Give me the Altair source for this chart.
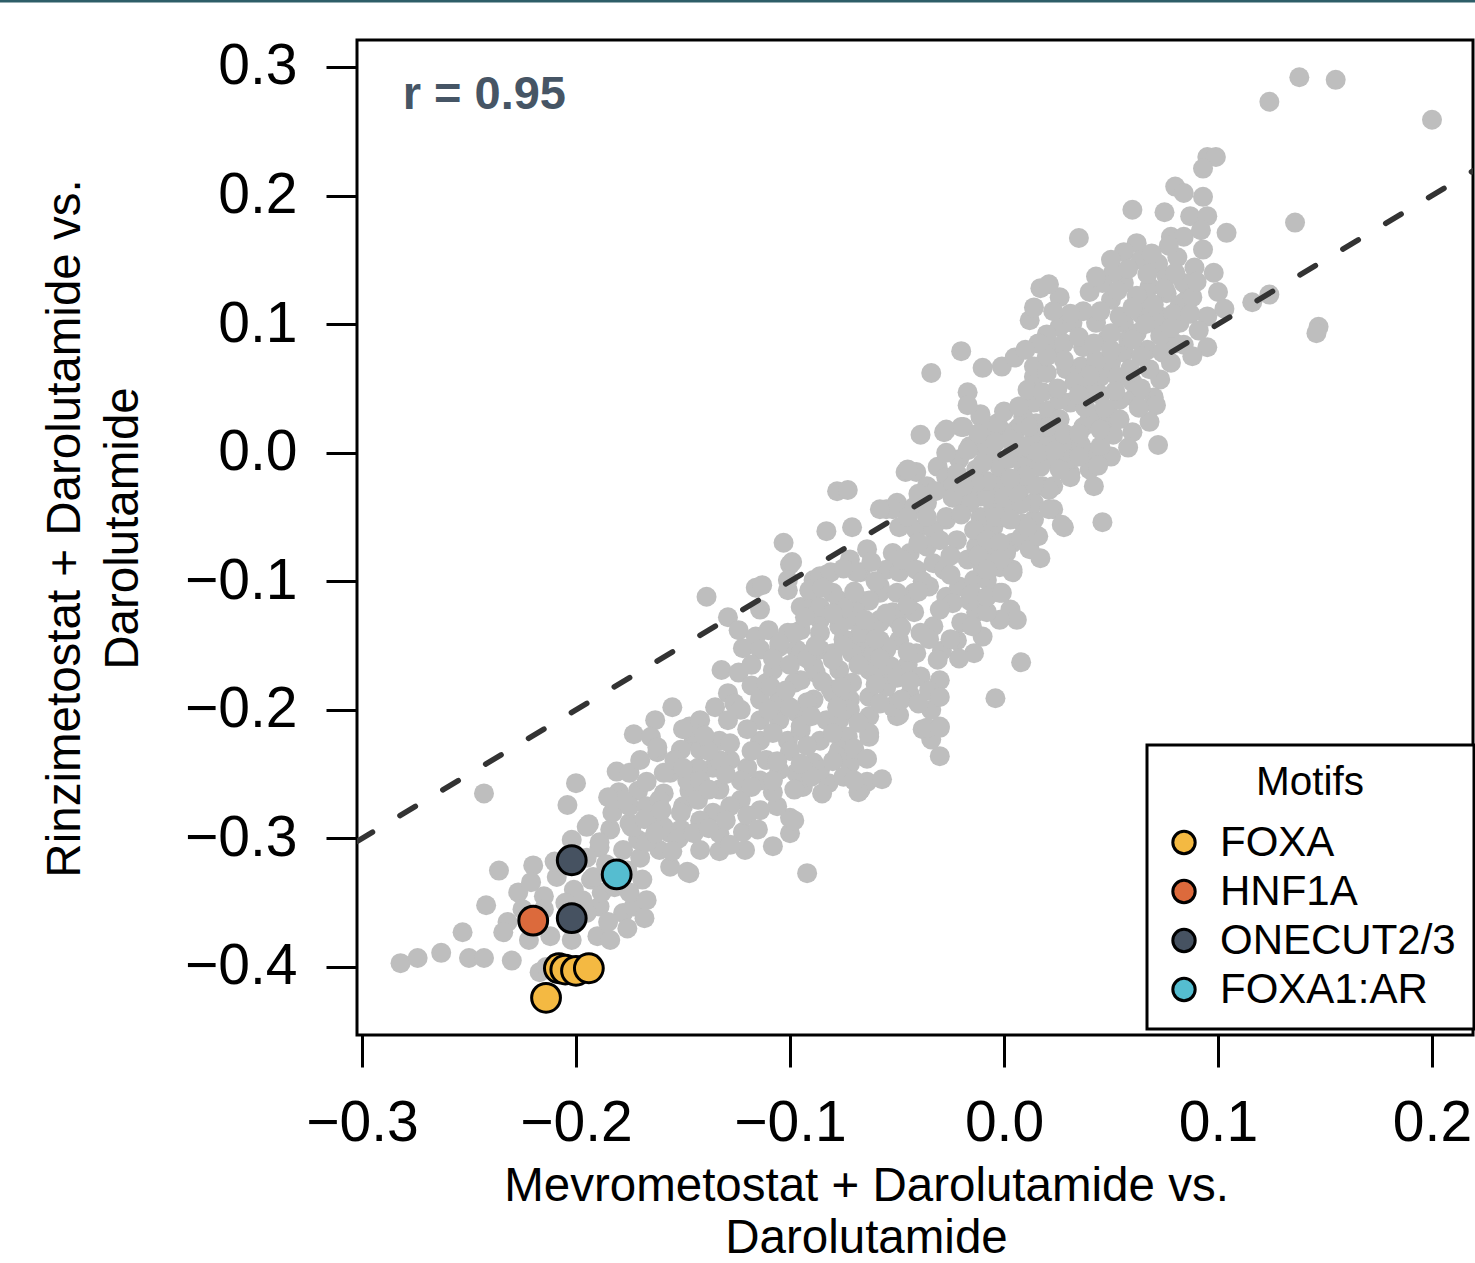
import altair as alt
import pandas as pd

# ---------------- data ----------------
lower_tail = [
    (-0.243, -0.265), (-0.200, -0.257), (-0.204, -0.274), (-0.194, -0.289), (-0.181, -0.248), (-0.180, -0.264),
    (-0.236, -0.325), (-0.220, -0.321), (-0.242, -0.352), (-0.253, -0.373), (-0.282, -0.397), (-0.274, -0.393),
    (-0.263, -0.389), (-0.250, -0.393), (-0.243, -0.393), (-0.230, -0.395), (-0.232, -0.365), (-0.234, -0.373),
    (-0.227, -0.342), (-0.221, -0.334), (-0.215, -0.345), (-0.209, -0.330), (-0.201, -0.340), (-0.212, -0.376),
    (-0.222, -0.379), (-0.202, -0.379), (-0.190, -0.376), (-0.184, -0.379), (-0.178, -0.358), (-0.173, -0.353),
    (-0.167, -0.348), (-0.189, -0.353), (-0.195, -0.358), (-0.197, -0.348), (-0.188, -0.342), (-0.202, -0.301),
    (-0.189, -0.307), (-0.184, -0.293), (-0.183, -0.280), (-0.175, -0.288), (-0.171, -0.301), (-0.178, -0.309),
    (-0.193, -0.332), (-0.169, -0.332), (-0.156, -0.322), (-0.147, -0.327), (-0.161, -0.309), (-0.156, -0.296),
    (-0.164, -0.284), (-0.171, -0.263), (-0.162, -0.233), (-0.156, -0.249), (-0.150, -0.275), (-0.147, -0.263),
    (-0.217, -0.404), (-0.214, -0.400),
    (-0.195, -0.315), (-0.186, -0.320), (-0.176, -0.325), (-0.170, -0.315), (-0.192, -0.330), (-0.182, -0.338),
    (-0.175, -0.342), (-0.205, -0.350), (-0.185, -0.365), (-0.176, -0.370), (-0.168, -0.362), (-0.210, -0.318),
    (-0.215, -0.355), (-0.225, -0.355),
]

lower_band = [
    (-0.139, -0.112), (-0.116, -0.105), (-0.129, -0.128), (-0.124, -0.138), (-0.116, -0.143), (-0.122, -0.152),
    (-0.132, -0.169), (-0.124, -0.171), (-0.118, -0.181), (-0.129, -0.187), (-0.135, -0.198), (-0.126, -0.195),
    (-0.155, -0.198), (-0.163, -0.208), (-0.173, -0.219), (-0.165, -0.221), (-0.162, -0.229), (-0.147, -0.213),
    (-0.145, -0.224), (-0.151, -0.231), (-0.175, -0.249), (-0.167, -0.256), (-0.159, -0.249), (-0.154, -0.239),
    (-0.195, -0.291), (-0.175, -0.275), (-0.174, -0.291), (-0.189, -0.303), (-0.167, -0.303), (-0.159, -0.291),
    (-0.151, -0.280), (-0.143, -0.270), (-0.136, -0.280), (-0.133, -0.296), (-0.122, -0.295), (-0.121, -0.309),
    (-0.108, -0.306), (-0.100, -0.284), (-0.100, -0.296), (-0.106, -0.275), (-0.108, -0.264), (-0.092, -0.327),
    (-0.094, -0.260), (-0.082, -0.257), (-0.067, -0.262), (-0.064, -0.256), (-0.057, -0.254), (-0.072, -0.241),
    (-0.089, -0.241), (-0.097, -0.249),
    (-0.100, -0.087), (-0.089, -0.099), (-0.083, -0.095), (-0.067, -0.093), (-0.101, -0.107), (-0.095, -0.120),
    (-0.089, -0.117), (-0.101, -0.140), (-0.105, -0.151), (-0.108, -0.169), (-0.111, -0.179), (-0.097, -0.153),
    (-0.089, -0.166), (-0.080, -0.156), (-0.073, -0.146), (-0.064, -0.135), (-0.058, -0.109), (-0.052, -0.124),
    (-0.055, -0.153), (-0.063, -0.169), (-0.055, -0.174), (-0.050, -0.194), (-0.050, -0.205), (-0.063, -0.205),
    (-0.063, -0.221), (-0.073, -0.221), (-0.083, -0.208), (-0.089, -0.192), (-0.097, -0.202), (-0.105, -0.192),
    (-0.101, -0.224), (-0.111, -0.239), (-0.120, -0.245), (-0.128, -0.239), (-0.136, -0.245), (-0.143, -0.245),
    (-0.148, -0.255), (-0.159, -0.265), (-0.167, -0.275),
    (-0.142, -0.208), (-0.133, -0.224), (-0.114, -0.208), (-0.114, -0.192), (-0.123, -0.200), (-0.095, -0.216),
    (-0.086, -0.224), (-0.077, -0.208), (-0.072, -0.192), (-0.081, -0.184), (-0.077, -0.169), (-0.086, -0.153),
    (-0.114, -0.153), (-0.110, -0.138), (-0.114, -0.122), (-0.095, -0.138), (-0.086, -0.130), (-0.077, -0.115),
    (-0.067, -0.115), (-0.072, -0.130), (-0.067, -0.153), (-0.058, -0.146), (-0.058, -0.130), (-0.095, -0.177),
    (-0.105, -0.208), (-0.114, -0.224), (-0.123, -0.255), (-0.133, -0.262), (-0.142, -0.255), (-0.114, -0.255),
    (-0.105, -0.247), (-0.086, -0.247), (-0.077, -0.231), (-0.142, -0.286), (-0.151, -0.293), (-0.161, -0.270),
    (-0.170, -0.239), (-0.142, -0.231), (-0.133, -0.239), (-0.123, -0.270), (-0.114, -0.278), (-0.142, -0.309),
    (-0.038, -0.215), (-0.030, -0.213), (-0.034, -0.223), (-0.030, -0.236), (-0.072, -0.242), (-0.068, -0.264),
    (-0.098, -0.286), (-0.078, -0.236), (-0.129, -0.208), (-0.133, -0.310), (-0.148, -0.326),
    (-0.145, -0.218), (-0.138, -0.232), (-0.128, -0.226), (-0.120, -0.215), (-0.108, -0.218), (-0.100, -0.232),
    (-0.092, -0.228), (-0.080, -0.218), (-0.070, -0.230), (-0.064, -0.238), (-0.130, -0.250), (-0.118, -0.260),
    (-0.108, -0.255), (-0.098, -0.262), (-0.090, -0.252), (-0.080, -0.240), (-0.075, -0.252), (-0.150, -0.245),
    (-0.138, -0.262), (-0.128, -0.275), (-0.106, -0.240), (-0.118, -0.232), (-0.095, -0.242), (-0.085, -0.265),
    (-0.070, -0.255), (-0.150, -0.215), (-0.140, -0.220),
    (-0.178, -0.270), (-0.168, -0.285), (-0.160, -0.278), (-0.152, -0.300), (-0.145, -0.296), (-0.138, -0.292),
    (-0.130, -0.286), (-0.120, -0.282), (-0.163, -0.296), (-0.155, -0.310), (-0.128, -0.305), (-0.115, -0.293),
    (-0.185, -0.268),
]

mid_band = [
    (-0.039, 0.014), (-0.028, 0.016), (-0.020, 0.020), (-0.046, -0.015), (-0.041, -0.015), (-0.078, -0.030),
    (-0.073, -0.029), (-0.083, -0.061), (-0.071, -0.058), (-0.064, -0.075), (-0.103, -0.070), (-0.099, -0.085),
    (-0.101, -0.099), (-0.113, -0.103), (-0.086, -0.096), (-0.081, -0.093), (-0.069, -0.093), (-0.072, -0.083),
    (-0.091, -0.107), (-0.055, -0.044), (-0.050, -0.039), (-0.031, -0.011), (-0.014, 0.005), (-0.005, 0.020),
    (0.007, 0.020), (0.018, 0.010), (0.031, 0.008), (0.026, -0.005), (0.031, -0.016), (0.018, -0.026),
    (0.023, -0.044), (0.028, -0.058), (0.017, -0.082), (0.007, -0.031), (-0.002, -0.029), (0.009, -0.055),
    (-0.005, -0.058), (0.004, -0.070), (0.004, -0.091), (-0.002, -0.109), (0.003, -0.122), (0.006, -0.130),
    (-0.002, -0.130), (-0.013, -0.124), (-0.008, -0.124), (-0.010, -0.143), (-0.014, -0.156), (-0.022, -0.146),
    (-0.021, -0.160), (-0.029, -0.154), (-0.030, -0.177), (0.008, -0.163), (-0.004, -0.191), (-0.044, -0.188),
    (-0.034, -0.200), (-0.036, -0.214), (-0.030, -0.214), (-0.049, -0.204), (-0.045, -0.165), (-0.033, -0.135),
    (-0.027, -0.112), (-0.021, -0.104), (-0.014, -0.099), (-0.010, -0.089), (-0.005, -0.078), (-0.013, -0.073),
    (-0.017, -0.083), (-0.022, -0.068), (-0.027, -0.052), (-0.017, -0.039), (-0.011, -0.034), (-0.021, -0.026),
    (-0.027, -0.019), (-0.036, -0.026), (-0.042, -0.042), (-0.049, -0.058), (-0.041, -0.060), (-0.033, -0.060),
    (-0.036, -0.073), (-0.044, -0.078), (-0.052, -0.078), (-0.055, -0.091), (-0.049, -0.093), (-0.041, -0.091),
    (-0.033, -0.086), (-0.028, -0.091), (-0.035, -0.104), (-0.042, -0.109), (-0.050, -0.109), (-0.058, -0.104),
    (-0.063, -0.115), (-0.069, -0.124), (-0.075, -0.120), (-0.080, -0.109), (-0.086, -0.120), (-0.093, -0.128),
    (-0.098, -0.140), (-0.105, -0.148), (-0.109, -0.182), (-0.095, -0.156), (-0.086, -0.140), (-0.077, -0.135),
    (-0.067, -0.140), (-0.058, -0.132), (-0.050, -0.130), (-0.042, -0.124), (-0.039, -0.140), (-0.049, -0.146),
    (-0.055, -0.151), (-0.061, -0.156), (-0.071, -0.156), (-0.080, -0.161), (-0.088, -0.171), (-0.098, -0.179),
    (-0.105, -0.194), (-0.092, -0.194), (-0.080, -0.187), (-0.071, -0.179), (-0.061, -0.171), (-0.053, -0.166),
    (-0.055, -0.182), (-0.063, -0.190), (-0.072, -0.200), (-0.095, -0.213), (-0.063, -0.218), (-0.052, -0.198),
    (-0.039, -0.174), (-0.041, -0.156), (-0.031, -0.161), (-0.024, -0.117), (-0.016, -0.115), (-0.008, -0.099),
    (-0.002, -0.089), (0.001, -0.078), (-0.007, -0.062), (0.000, -0.050), (-0.011, -0.050), (-0.014, -0.060),
    (-0.005, -0.042), (0.014, -0.052), (0.004, -0.042), (0.014, -0.039), (0.011, -0.008), (0.004, 0.000),
    (-0.005, -0.003), (-0.013, -0.013), (-0.021, -0.005), (-0.027, 0.000), (0.020, -0.005), (0.023, -0.026),
    (-0.034, 0.062), (-0.027, 0.018), (-0.011, 0.030), (-0.045, -0.013), (-0.016, 0.005), (-0.008, 0.010),
    (-0.002, 0.018), (0.006, 0.018), (0.009, 0.028), (0.014, 0.039), (0.014, 0.059), (0.020, -0.003),
    (-0.002, -0.023), (0.021, -0.029), (-0.024, -0.026), (-0.052, -0.044), (-0.058, -0.044), (-0.036, -0.039),
    (-0.027, -0.050), (-0.016, -0.039), (-0.008, -0.034),
    (-0.040, -0.032), (-0.032, -0.030), (-0.024, -0.035), (-0.016, -0.028), (-0.008, -0.022), (0.000, -0.035),
    (0.008, -0.040), (0.014, -0.025), (-0.036, -0.050), (-0.020, -0.048), (-0.004, -0.050), (0.008, -0.066),
    (-0.008, -0.068), (-0.030, -0.068), (-0.040, -0.070), (-0.045, -0.050), (-0.025, -0.080), (-0.012, -0.080),
    (0.012, -0.075), (-0.002, -0.070), (0.016, -0.065),
    (-0.075, -0.090), (-0.062, -0.085), (-0.048, -0.083), (-0.038, -0.100), (-0.025, -0.095), (-0.015, -0.110),
    (-0.008, -0.112), (-0.060, -0.100), (-0.070, -0.108), (-0.045, -0.118), (-0.030, -0.122), (-0.020, -0.132),
    (-0.055, -0.125), (-0.065, -0.130), (-0.075, -0.145), (-0.048, -0.136), (-0.035, -0.145), (-0.025, -0.145),
    (-0.015, -0.135), (-0.060, -0.145), (-0.080, -0.125), (-0.085, -0.105), (-0.040, -0.108),
    (-0.108, -0.160), (-0.100, -0.165), (-0.092, -0.160), (-0.085, -0.178), (-0.076, -0.182), (-0.068, -0.165),
    (-0.060, -0.180), (-0.050, -0.175), (-0.044, -0.178), (-0.035, -0.185), (-0.048, -0.192), (-0.058, -0.195),
    (-0.068, -0.210), (-0.078, -0.198), (-0.090, -0.205), (-0.100, -0.198), (-0.110, -0.200), (-0.102, -0.185),
    (-0.118, -0.165), (-0.040, -0.195), (-0.030, -0.190), (-0.088, -0.150), (-0.075, -0.150), (-0.058, -0.160),
    (-0.045, -0.155),
]

upper_band = [
    (-0.020, 0.079), (-0.010, 0.066), (-0.001, 0.067), (0.005, 0.074), (0.012, 0.103), (0.017, 0.128),
    (0.026, 0.121), (0.040, 0.125), (0.050, 0.119), (0.056, 0.132), (0.068, 0.129), (0.076, 0.124),
    (0.084, 0.117), (0.086, 0.129), (0.095, 0.106), (0.116, 0.117), (0.095, 0.082), (0.084, 0.084),
    (0.082, 0.101), (0.073, 0.096), (0.073, 0.057), (0.061, 0.043), (0.070, 0.043), (0.071, 0.037),
    (0.068, 0.024), (0.072, 0.006), (0.060, 0.016), (0.058, 0.004), (0.051, 0.014), (0.050, -0.003),
    (0.042, -0.026), (0.046, -0.054), (0.050, 0.028), (0.045, 0.028), (0.037, 0.020), (0.040, 0.000),
    (0.031, -0.019), (0.021, -0.044), (0.027, -0.056), (-0.001, -0.109), (0.004, -0.093), (-0.002, -0.083),
    (-0.008, -0.091), (0.011, -0.058), (0.003, -0.052), (0.006, -0.031), (0.017, -0.011), (0.009, -0.011),
    (-0.002, -0.011), (-0.013, -0.023), (-0.019, -0.026), (-0.022, -0.016), (-0.017, 0.002), (-0.008, 0.005),
    (0.000, 0.016), (-0.003, 0.023), (-0.011, 0.028), (-0.019, 0.020), (-0.017, 0.047), (-0.017, 0.037),
    (0.000, 0.032), (0.007, 0.036), (0.011, 0.049), (0.014, 0.067), (0.020, 0.062), (0.018, 0.047),
    (0.021, 0.033), (0.015, 0.023), (0.014, 0.010), (0.021, 0.012), (0.023, 0.082), (0.026, 0.098),
    (0.032, 0.101), (0.037, 0.082), (0.036, 0.067), (0.029, 0.065), (0.031, 0.039), (0.039, 0.049),
    (0.045, 0.059), (0.050, 0.070), (0.043, 0.072), (0.048, 0.088), (0.043, 0.101), (0.045, 0.110),
    (0.056, 0.101), (0.062, 0.093), (0.067, 0.080), (0.056, 0.078), (0.053, 0.059), (0.059, 0.065),
    (0.065, 0.110), (0.037, 0.110), (0.031, 0.108), (0.023, 0.110),
    (0.026, 0.041), (0.054, 0.041), (0.040, 0.026), (0.026, 0.026), (0.054, 0.026), (0.031, -0.005),
    (0.040, -0.013), (0.036, 0.006),
    (0.020, 0.092), (0.028, 0.085), (0.035, 0.090), (0.042, 0.085), (0.050, 0.080), (0.058, 0.088),
    (0.064, 0.075), (0.060, 0.055), (0.052, 0.048), (0.045, 0.045), (0.040, 0.060), (0.033, 0.055),
    (0.025, 0.050), (0.028, 0.072), (0.020, 0.075), (0.047, 0.035), (0.038, 0.035), (0.064, 0.050),
    (0.068, 0.065), (0.035, 0.045), (0.016, 0.085), (0.010, 0.080), (0.063, 0.035), (0.078, 0.070),
    (0.080, 0.085), (0.074, 0.078), (0.088, 0.075),
    (-0.012, 0.015), (-0.004, 0.008), (0.003, 0.010), (0.010, 0.005), (0.016, 0.000), (0.024, 0.002),
    (0.035, -0.003), (0.045, 0.005), (0.028, 0.015), (0.012, 0.020), (0.020, 0.020), (0.002, -0.005),
    (0.010, -0.018), (0.026, -0.013), (0.044, -0.010), (-0.010, -0.008), (0.003, -0.020), (0.035, 0.015),
    (0.045, 0.018),
]

top_tail = [
    (0.124, 0.273), (0.138, 0.292), (0.155, 0.290), (0.200, 0.259), (0.095, 0.230), (0.099, 0.230),
    (0.093, 0.221), (0.080, 0.207), (0.084, 0.202), (0.093, 0.199), (0.060, 0.189), (0.075, 0.187),
    (0.087, 0.184), (0.095, 0.184), (0.104, 0.171), (0.136, 0.179), (0.078, 0.168), (0.084, 0.168),
    (0.092, 0.173), (0.093, 0.158), (0.062, 0.163), (0.056, 0.156), (0.064, 0.150), (0.072, 0.147),
    (0.081, 0.152), (0.089, 0.144), (0.098, 0.140), (0.051, 0.140), (0.046, 0.132), (0.076, 0.137),
    (0.084, 0.132), (0.124, 0.123), (0.147, 0.098), (0.146, 0.093), (0.054, 0.106), (0.064, 0.108),
    (0.073, 0.106), (0.073, 0.091), (0.060, 0.088), (0.050, 0.093), (0.082, 0.114),
    (0.035, 0.167), (0.077, 0.161), (0.043, 0.137), (0.021, 0.131), (0.014, 0.113), (0.068, 0.117),
    (0.050, 0.150), (0.058, 0.143), (0.067, 0.139), (0.075, 0.128), (0.062, 0.122), (0.070, 0.115),
    (0.079, 0.108), (0.088, 0.121), (0.053, 0.126), (0.060, 0.113), (0.066, 0.100), (0.078, 0.097),
    (0.087, 0.108), (0.091, 0.095), (0.069, 0.155), (0.080, 0.140), (0.090, 0.133), (0.100, 0.125),
    (0.103, 0.112),
]

motif_names = ["FOXA", "FOXA", "FOXA", "FOXA", "FOXA", "HNF1A", "ONECUT2/3", "ONECUT2/3", "FOXA1:AR"]
motif_x = [-0.214, -0.208, -0.205, -0.200, -0.194, -0.220, -0.202, -0.202, -0.181]
motif_y = [-0.424, -0.401, -0.402, -0.403, -0.401, -0.364, -0.317, -0.362, -0.328]

legend_order = ["FOXA", "HNF1A", "ONECUT2/3", "FOXA1:AR"]
legend_colors = ["#F4B942", "#DC6A3C", "#465261", "#55BDD0"]

identity_x = [-0.3023, 0.2192]          # y = x reference line
x_ticks = [-0.3, -0.2, -0.1, 0.0, 0.1, 0.2]
y_ticks = [-0.4, -0.3, -0.2, -0.1, 0.0, 0.1, 0.2, 0.3]
r_label = ["r = 0.95"]
r_label_x = [-0.281]
r_label_y = [0.278]

# ---------------- frames ----------------
grey_df = pd.DataFrame(lower_tail + lower_band + mid_band + upper_band + top_tail, columns=["x", "y"])
motif_df = pd.DataFrame({"x": motif_x, "y": motif_y, "motif": motif_names})
line_df = pd.DataFrame({"x": identity_x, "y": identity_x})
text_df = pd.DataFrame({"x": r_label_x, "y": r_label_y, "label": r_label})

FONT = "Liberation Sans"

x_enc = alt.X(
    "x:Q",
    scale=alt.Scale(domain=[-0.30234, 0.21916], nice=False, zero=False),
    axis=alt.Axis(
        values=x_ticks, format=".1f", grid=False, domain=False,
        tickSize=32, tickWidth=3, tickColor="black",
        labelFontSize=57, labelColor="black", labelPadding=28, labelFont=FONT,
        labelFlush=False, labelOverlap=False, labelBound=False,
        title=["Mevrometostat + Darolutamide vs.", "Darolutamide"],
        titleFont=FONT, titleFontSize=47.5, titleFontWeight="normal", titleColor="black",
        titleLineHeight=52, titleX=509, titleY=127, titleBaseline="top", titleAlign="center",
    ),
)
y_enc = alt.Y(
    "y:Q",
    scale=alt.Scale(domain=[-0.4529, 0.3210], nice=False, zero=False),
    axis=alt.Axis(
        values=y_ticks, format=".1f", grid=False, domain=False,
        tickSize=31, tickWidth=3, tickColor="black",
        labelFontSize=57, labelColor="black", labelPadding=29, labelFont=FONT,
        labelFlush=False, labelOverlap=False, labelBound=False,
        title=["Rinzimetostat + Darolutamide vs.", "Darolutamide"],
        titleFont=FONT, titleFontSize=47.5, titleFontWeight="normal", titleColor="black",
        titleLineHeight=58, titleX=-316, titleY=488, titleAngle=270,
        titleBaseline="top", titleAlign="center",
    ),
)

grey = alt.Chart(grey_df).mark_circle(size=400, color="#BEBEBE", opacity=1).encode(x=x_enc, y=y_enc)

diag = alt.Chart(line_df).mark_line(
    color="#333333", strokeWidth=5.5, strokeDash=[18, 32], strokeCap="round", clip=True
).encode(x=x_enc, y=y_enc)

motifs = alt.Chart(motif_df).mark_circle(
    size=830, opacity=1, stroke="black", strokeWidth=3
).encode(
    x=x_enc, y=y_enc,
    color=alt.Color(
        "motif:N",
        scale=alt.Scale(domain=legend_order, range=legend_colors),
        legend=alt.Legend(
            title="Motifs", orient="none", legendX=790, legendY=705, direction="vertical",
            fillColor="white", strokeColor="black", padding=18,
            titleFont=FONT, titleFontSize=40.5, titleFontWeight="normal", titleColor="black",
            titleAnchor="middle", titlePadding=18, titleLimit=400,
            labelFont=FONT, labelFontSize=42, labelColor="black", labelOffset=15, labelLimit=400,
            symbolType="circle", symbolSize=500, symbolStrokeColor="black", symbolStrokeWidth=3,
            symbolOpacity=1, rowPadding=7, symbolOffset=-2,
        ),
    ),
    order=alt.Order("motif:N"),
)

rtext = alt.Chart(text_df).mark_text(
    align="left", baseline="middle", fontSize=47, fontWeight="bold", color="#465565", font=FONT
).encode(x=x_enc, y=y_enc, text="label:N")

top_border = alt.Chart(text_df).mark_rule(color="#2E5E68", strokeWidth=3).encode(
    x=alt.value(-357), x2=alt.value(1118), y=alt.value(-39)
)

chart = alt.layer(grey, diag, motifs, rtext, top_border).properties(
    width=1116, height=995,
    autosize=alt.AutoSizeParams(type="none"),
    padding={"left": 357, "top": 40, "right": 2, "bottom": 228},
    background="white",
).configure(font=FONT).configure_view(stroke="black", strokeWidth=3).configure_legend(strokeWidth=3)

chart.save("out.html", embed_options={"renderer": "svg", "actions": False})
